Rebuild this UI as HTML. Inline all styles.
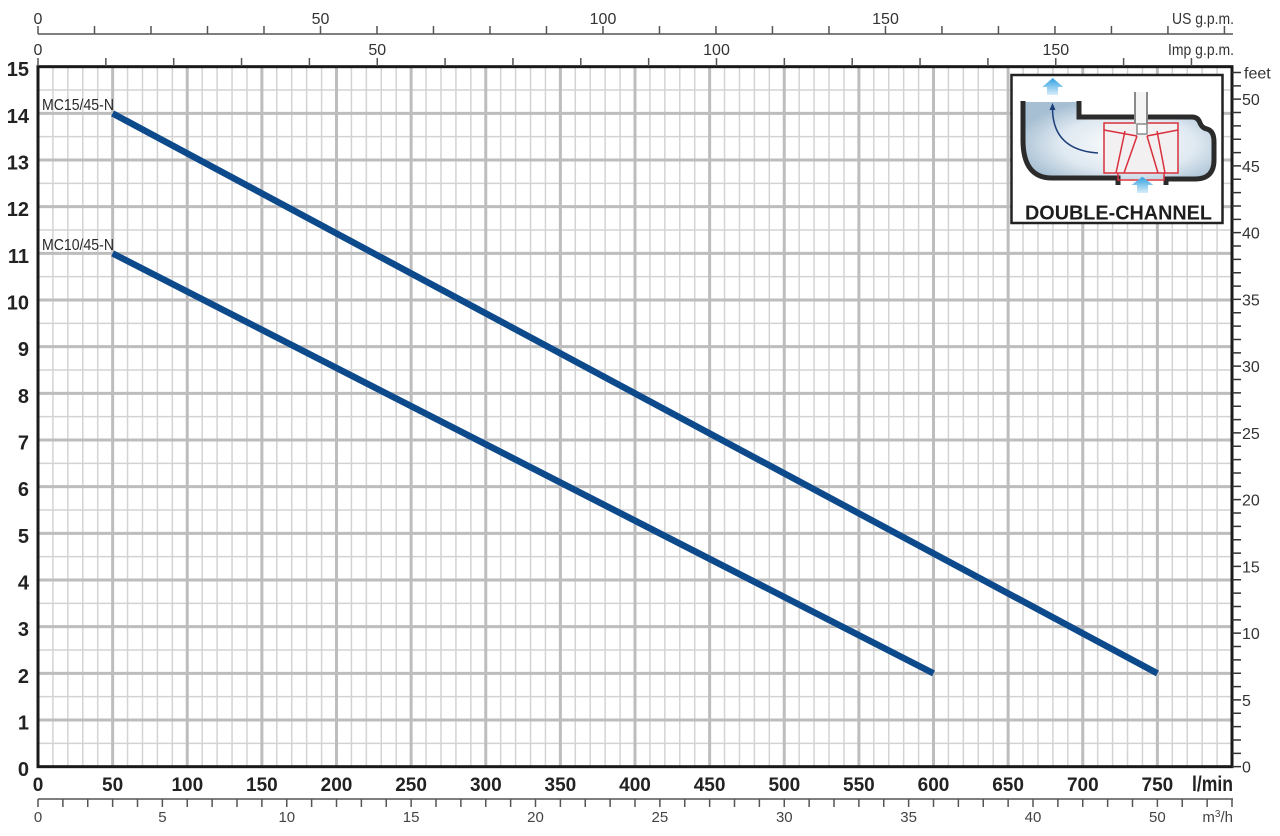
<!DOCTYPE html>
<html><head><meta charset="utf-8"><style>
html,body{margin:0;padding:0;background:#fff;}
svg{display:block;}
text{font-family:"Liberation Sans",Arial,sans-serif;}
</style></head><body>
<svg width="1280" height="836" viewBox="0 0 1280 836" xmlns="http://www.w3.org/2000/svg">
<defs>
<radialGradient id="fluid" cx="0.55" cy="0.55" r="0.6">
<stop offset="0" stop-color="#ffffff"/><stop offset="0.6" stop-color="#dfe9f1"/><stop offset="1" stop-color="#a7bfd3"/>
</radialGradient>
<linearGradient id="arr" x1="0" y1="0" x2="0" y2="1">
<stop offset="0" stop-color="#2f9fe0"/><stop offset="1" stop-color="#d8eefa"/>
</linearGradient>
</defs>
<rect width="1280" height="836" fill="#fff"/>

<!-- minor vertical grid -->
<path stroke="#d3d3d3" stroke-width="1.5" fill="none" d="M52.93 67V766M67.85 67V766M82.78 67V766M97.70 67V766M127.55 67V766M142.48 67V766M157.40 67V766M172.33 67V766M202.18 67V766M217.10 67V766M232.03 67V766M246.95 67V766M276.80 67V766M291.73 67V766M306.65 67V766M321.58 67V766M351.43 67V766M366.35 67V766M381.28 67V766M396.20 67V766M426.05 67V766M440.98 67V766M455.90 67V766M470.83 67V766M500.68 67V766M515.60 67V766M530.53 67V766M545.45 67V766M575.30 67V766M590.23 67V766M605.15 67V766M620.08 67V766M649.93 67V766M664.85 67V766M679.78 67V766M694.70 67V766M724.55 67V766M739.48 67V766M754.40 67V766M769.33 67V766M799.18 67V766M814.10 67V766M829.03 67V766M843.95 67V766M873.80 67V766M888.73 67V766M903.65 67V766M918.58 67V766M948.43 67V766M963.35 67V766M978.28 67V766M993.20 67V766M1023.05 67V766M1037.98 67V766M1052.90 67V766M1067.83 67V766M1097.68 67V766M1112.60 67V766M1127.53 67V766M1142.45 67V766M1172.30 67V766M1187.23 67V766M1202.15 67V766M1217.08 67V766"/>
<!-- minor horizontal grid -->
<path stroke="#d3d3d3" stroke-width="1.5" fill="none" d="M38 743.33H1232M38 696.67H1232M38 650H1232M38 603.33H1232M38 556.67H1232M38 510H1232M38 463.33H1232M38 416.67H1232M38 370H1232M38 323.33H1232M38 276.67H1232M38 230H1232M38 183.33H1232M38 136.67H1232M38 90H1232"/>
<!-- major grid -->
<path stroke="#bdbdbd" stroke-width="3" fill="none" d="M112.63 67V766M187.25 67V766M261.88 67V766M336.50 67V766M411.13 67V766M485.75 67V766M560.38 67V766M635 67V766M709.63 67V766M784.25 67V766M858.88 67V766M933.50 67V766M1008.13 67V766M1082.75 67V766M1157.38 67V766M38 720H1232M38 673.33H1232M38 626.67H1232M38 580H1232M38 533.33H1232M38 486.67H1232M38 440H1232M38 393.33H1232M38 346.67H1232M38 300H1232M38 253.33H1232M38 206.67H1232M38 160H1232M38 113.33H1232"/>

<!-- plot border -->
<rect x="38" y="66.67" width="1194" height="700" fill="none" stroke="#1a1a1a" stroke-width="3"/>

<!-- curves -->
<line x1="112.6" y1="113.4" x2="1157.4" y2="673.4" stroke="#0d4a8c" stroke-width="6.5"/>
<line x1="112.6" y1="253.4" x2="933.5" y2="673.4" stroke="#0d4a8c" stroke-width="6.5"/>
<text x="42" y="110" font-size="16" fill="#2a2a2a" textLength="72" lengthAdjust="spacingAndGlyphs">MC15/45-N</text>
<text x="42" y="250" font-size="16" fill="#2a2a2a" textLength="72" lengthAdjust="spacingAndGlyphs">MC10/45-N</text>

<!-- top US gpm axis -->
<path stroke="#555" stroke-width="1.5" fill="none" d="M38 34H1233M38 26V34M94.50 26V34M150.99 26V34M207.49 26V34M263.99 26V34M320.49 26V34M376.98 26V34M433.48 26V34M489.98 26V34M546.47 26V34M602.97 26V34M659.47 26V34M715.96 26V34M772.46 26V34M828.96 26V34M885.46 26V34M941.95 26V34M998.45 26V34M1054.95 26V34M1111.44 26V34M1167.94 26V34M1224.44 26V34"/>
<g font-size="16" fill="#333" text-anchor="middle">
<text x="38" y="24">0</text><text x="320.5" y="24">50</text><text x="603" y="24">100</text><text x="885.5" y="24">150</text>
</g>
<text x="1234" y="24" font-size="16" fill="#333" text-anchor="end" textLength="62" lengthAdjust="spacingAndGlyphs">US g.p.m.</text>

<!-- Imp gpm axis -->
<path stroke="#555" stroke-width="1.5" fill="none" d="M38 58V66M105.85 58V66M173.70 58V66M241.55 58V66M309.40 58V66M377.25 58V66M445.10 58V66M512.95 58V66M580.80 58V66M648.65 58V66M716.50 58V66M784.35 58V66M852.20 58V66M920.05 58V66M987.90 58V66M1055.75 58V66M1123.60 58V66M1191.45 58V66"/>
<g font-size="16" fill="#333" text-anchor="middle">
<text x="38" y="55">0</text><text x="377.3" y="55">50</text><text x="716.5" y="55">100</text><text x="1055.8" y="55">150</text>
</g>
<text x="1234" y="55" font-size="16" fill="#333" text-anchor="end" textLength="66" lengthAdjust="spacingAndGlyphs">Imp g.p.m.</text>

<!-- left y labels -->
<g font-size="20" font-weight="bold" fill="#222" text-anchor="end">
<text x="29" y="776.2">0</text><text x="29" y="729.5">1</text><text x="29" y="682.8">2</text><text x="29" y="636.2">3</text><text x="29" y="589.5">4</text><text x="29" y="542.8">5</text><text x="29" y="496.2">6</text><text x="29" y="449.5">7</text><text x="29" y="402.8">8</text><text x="29" y="356.2">9</text><text x="29" y="309.5">10</text><text x="29" y="262.8">11</text><text x="29" y="216.2">12</text><text x="29" y="169.5">13</text><text x="29" y="122.8">14</text><text x="29" y="76.2">15</text>
</g>

<!-- bottom l/min labels -->
<g font-size="19" font-weight="bold" fill="#222" text-anchor="middle">
<text x="38" y="791">0</text><text x="112.6" y="791">50</text><text x="187.3" y="791">100</text><text x="261.9" y="791">150</text><text x="336.5" y="791">200</text><text x="411.1" y="791">250</text><text x="485.8" y="791">300</text><text x="560.4" y="791">350</text><text x="635" y="791">400</text><text x="709.6" y="791">450</text><text x="784.3" y="791">500</text><text x="858.9" y="791">550</text><text x="933.5" y="791">600</text><text x="1008.1" y="791">650</text><text x="1082.8" y="791">700</text><text x="1157.4" y="791">750</text>
</g>
<text x="1233" y="791" font-size="21" font-weight="bold" fill="#222" text-anchor="end" textLength="41" lengthAdjust="spacingAndGlyphs">l/min</text>

<!-- bottom m3/h axis -->
<path stroke="#555" stroke-width="1.5" fill="none" d="M38 799H1233M38 799V807M62.88 799V807M87.75 799V807M112.63 799V807M137.50 799V807M162.38 799V807M187.25 799V807M212.13 799V807M237 799V807M261.88 799V807M286.75 799V807M311.63 799V807M336.50 799V807M361.38 799V807M386.25 799V807M411.13 799V807M436 799V807M460.88 799V807M485.75 799V807M510.63 799V807M535.50 799V807M560.38 799V807M585.25 799V807M610.13 799V807M635 799V807M659.88 799V807M684.75 799V807M709.63 799V807M734.50 799V807M759.38 799V807M784.25 799V807M809.13 799V807M834 799V807M858.88 799V807M883.75 799V807M908.63 799V807M933.50 799V807M958.38 799V807M983.25 799V807M1008.13 799V807M1033 799V807M1057.88 799V807M1082.75 799V807M1107.63 799V807M1132.50 799V807M1157.38 799V807M1182.25 799V807M1207.13 799V807M1232 799V807"/>
<g font-size="15" fill="#444" text-anchor="middle">
<text x="38" y="822">0</text><text x="162.4" y="822">5</text><text x="286.8" y="822">10</text><text x="411.1" y="822">15</text><text x="535.5" y="822">20</text><text x="659.9" y="822">25</text><text x="784.3" y="822">30</text><text x="908.6" y="822">35</text><text x="1033" y="822">40</text><text x="1157.4" y="822">50</text>
</g>
<text x="1233" y="822" font-size="15" fill="#444" text-anchor="end">m<tspan font-size="10" dy="-5">3</tspan><tspan dy="5">/h</tspan></text>

<!-- right feet axis -->
<path stroke="#333" stroke-width="1.5" fill="none" d="M1232 766.67H1241M1232 753.32H1241M1232 739.97H1241M1232 726.62H1241M1232 713.27H1241M1232 699.92H1241M1232 686.57H1241M1232 673.22H1241M1232 659.87H1241M1232 646.52H1241M1232 633.17H1241M1232 619.82H1241M1232 606.47H1241M1232 593.12H1241M1232 579.77H1241M1232 566.42H1241M1232 553.07H1241M1232 539.72H1241M1232 526.37H1241M1232 513.02H1241M1232 499.67H1241M1232 486.32H1241M1232 472.97H1241M1232 459.62H1241M1232 446.27H1241M1232 432.92H1241M1232 419.57H1241M1232 406.22H1241M1232 392.87H1241M1232 379.52H1241M1232 366.17H1241M1232 352.82H1241M1232 339.47H1241M1232 326.12H1241M1232 312.77H1241M1232 299.42H1241M1232 286.07H1241M1232 272.72H1241M1232 259.37H1241M1232 246.02H1241M1232 232.67H1241M1232 219.32H1241M1232 205.97H1241M1232 192.62H1241M1232 179.27H1241M1232 165.92H1241M1232 152.57H1241M1232 139.22H1241M1232 125.87H1241M1232 112.52H1241M1232 99.17H1241M1232 85.82H1241M1232 72.47H1241"/>
<g font-size="16" fill="#333">
<text x="1242" y="772.5">0</text><text x="1242" y="705.9">5</text><text x="1242" y="639.2">10</text><text x="1242" y="572.4">15</text><text x="1242" y="505.7">20</text><text x="1242" y="438.9">25</text><text x="1242" y="372.2">30</text><text x="1242" y="305.4">35</text><text x="1242" y="238.7">40</text><text x="1242" y="171.9">45</text><text x="1242" y="105.2">50</text><text x="1244" y="78.5">feet</text>
</g>

<!-- inset -->
<rect x="1011.5" y="75" width="211" height="148" fill="#fff" stroke="#222" stroke-width="2.5"/>
<path d="M1024 102H1078V118H1191Q1198 118 1200 125Q1203 129 1208 130Q1213 132 1213 142V158Q1213 178 1195 179H1050Q1024 176 1024 145Z" fill="url(#fluid)"/>
<path d="M1023 101V140Q1023 178 1052 178H1118V185" fill="none" stroke="#2b2b2b" stroke-width="5"/>
<path d="M1079 101V117H1192Q1198 117 1200 123Q1202 128 1207 129Q1214 131 1214 142V160Q1214 179 1195 179H1166V185" fill="none" stroke="#2b2b2b" stroke-width="5"/>
<!-- impeller -->
<path d="M1104 123H1178V173H1104Z" fill="#f3f0f2" stroke="#d8303c" stroke-width="1.5"/>
<path d="M1104 130L1137 136M1178 130L1147 136M1125 131L1116 173M1157 131L1165 173M1137 136L1124 173M1147 136L1158 173M1118 173V180H1164V173" fill="none" stroke="#d8303c" stroke-width="1.5"/>
<!-- shaft -->
<rect x="1135" y="92" width="12" height="32" fill="#f4f4f4"/>
<path d="M1135 92V124M1147 92V124" stroke="#8a8a8a" stroke-width="2"/>
<rect x="1137" y="124" width="10" height="10" fill="#fff" stroke="#8a8a8a" stroke-width="1.5"/>
<!-- arrows -->
<path d="M1052.7 78L1063.3 87H1058V95H1047V87H1042.2Z" fill="url(#arr)"/>
<path d="M1142.3 176.7L1153.3 185H1148V193H1137V185H1131.5Z" fill="url(#arr)"/>
<path d="M1098 153Q1053 150 1052.5 109" fill="none" stroke="#1c3f7a" stroke-width="1.5"/>
<path d="M1052.5 103L1055.5 110H1049.5Z" fill="#1c3f7a"/>
<text x="1025" y="219.5" font-size="20" font-weight="bold" fill="#1e1e1e" textLength="187" lengthAdjust="spacingAndGlyphs">DOUBLE-CHANNEL</text>
</svg>
</body></html>
